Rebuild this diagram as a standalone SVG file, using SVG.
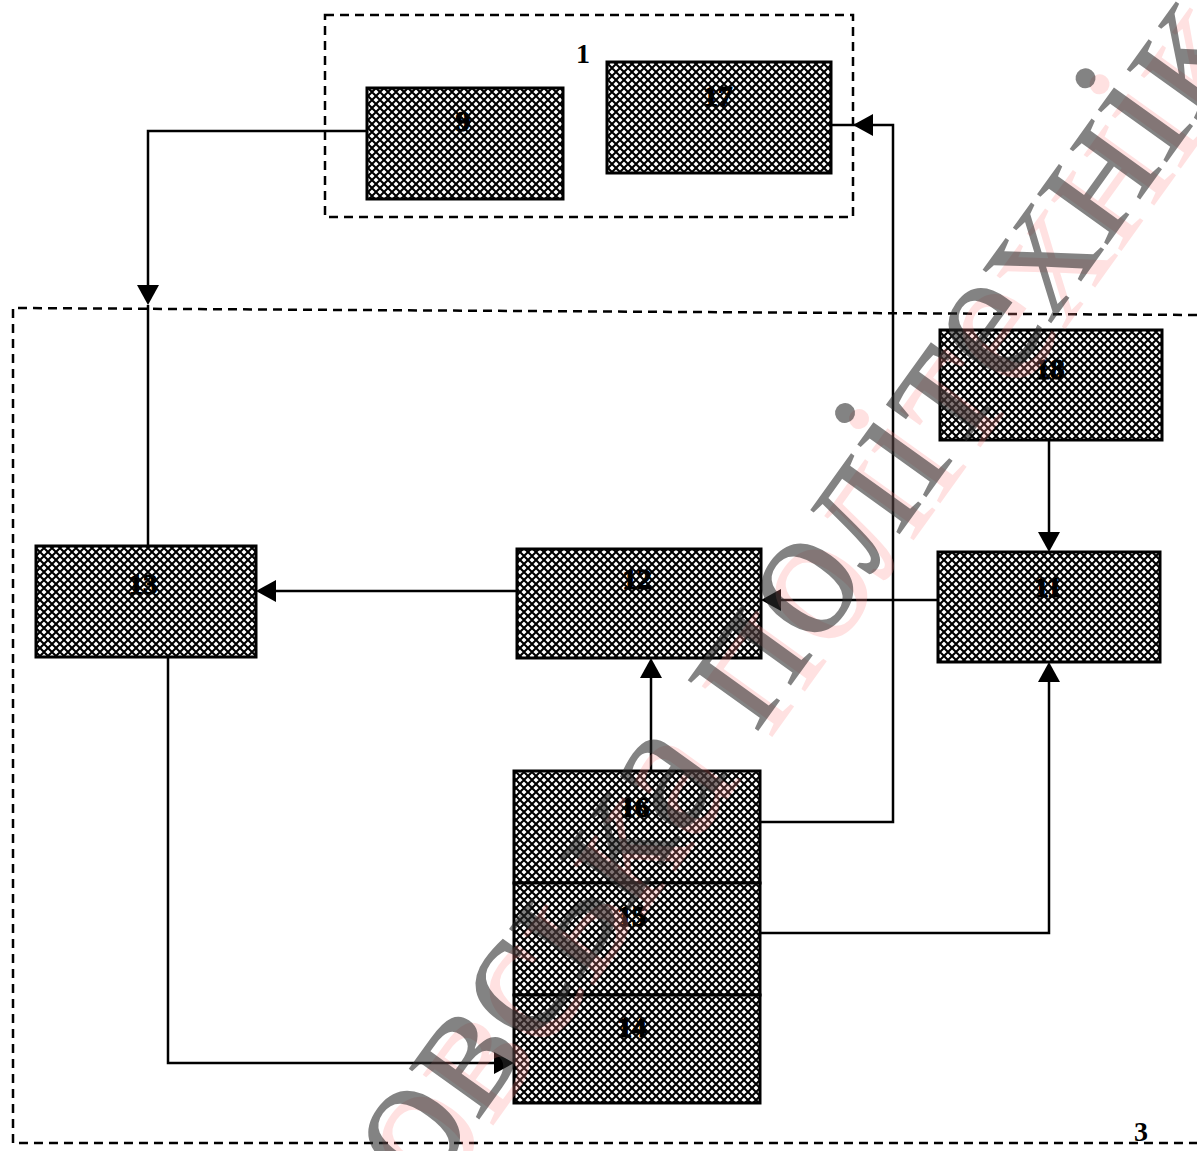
<svg xmlns="http://www.w3.org/2000/svg" width="1197" height="1151" viewBox="0 0 1197 1151">
<style>
.box{fill:url(#hatch);stroke:#000;stroke-width:3}
.lbl{font-family:"Liberation Serif",serif;font-weight:bold;font-size:29px;fill:#000;stroke:#000;stroke-width:1.2;text-anchor:middle}
.frame{fill:none;stroke:#000;stroke-width:2.5;stroke-dasharray:9 6}
.wire{fill:none;stroke:#000;stroke-width:2.5}
.num{font-family:"Liberation Serif",serif;font-size:28px;font-weight:bold;fill:#000}
.wm{font-family:"Liberation Serif",serif;font-size:189px}
</style>
<defs>
<pattern id="hatch" width="8" height="8" patternUnits="userSpaceOnUse">
<rect width="8" height="8" fill="#fff"/>
<path d="M-1,-1 L9,9 M9,-1 L-1,9" stroke="#000" stroke-width="2.1"/>
</pattern>
</defs>
<rect width="1197" height="1151" fill="#fff"/>

<g id="group1">
<rect class="frame" x="325" y="15" width="528" height="202"/>
<text class="num" x="576" y="63">1</text>
</g>
<g id="group3">
<path class="frame" d="M1197,315 L13,308 L13,1143 L1197,1143"/>
<text class="num" x="1134" y="1141">3</text>
</g>

<g id="connectors">
<path class="wire" d="M367,131 H148 V285"/>
<path d="M137,285 L159,285 L148,305 Z" fill="#000"/>
<path class="wire" d="M148,305 V546"/>
<path class="wire" d="M760,822 H893 V125 H853"/>
<path d="M853,125 L873,114 L873,136 Z" fill="#000"/>
<path class="wire" d="M853,125 H831"/>
<path class="wire" d="M1049,440 V532"/>
<path d="M1038,532 L1060,532 L1049,552 Z" fill="#000"/>
<path class="wire" d="M938,600 H781"/>
<path d="M781,589 L781,611 L761,600 Z" fill="#000"/>
<path class="wire" d="M517,591 H276"/>
<path d="M276,580 L276,602 L256,591 Z" fill="#000"/>
<path class="wire" d="M651,771 V678"/>
<path d="M640,678 L662,678 L651,658 Z" fill="#000"/>
<path class="wire" d="M760,933 H1049 V682"/>
<path d="M1038,682 L1060,682 L1049,662 Z" fill="#000"/>
<path class="wire" d="M168,657 V1063 H494"/>
<path d="M494,1052 L494,1074 L514,1063 Z" fill="#000"/>
</g>

<g id="node9"><rect class="box" x="367" y="88" width="196" height="111"/><text class="lbl" x="463" y="131">9</text></g>
<g id="node17"><rect class="box" x="607" y="62" width="224" height="111"/><text class="lbl" x="718" y="106">17</text></g>
<g id="node18"><rect class="box" x="940" y="330" width="222" height="110"/><text class="lbl" x="1050" y="379">18</text></g>
<g id="node11"><rect class="box" x="938" y="552" width="222" height="110"/><text class="lbl" x="1048" y="597">11</text></g>
<g id="node12"><rect class="box" x="517" y="549" width="244" height="109"/><text class="lbl" x="637" y="589">12</text></g>
<g id="node13"><rect class="box" x="36" y="546" width="220" height="111"/><text class="lbl" x="143" y="594">13</text></g>
<g id="node16"><rect class="box" x="514" y="771" width="246" height="112"/><text class="lbl" x="635" y="817">16</text></g>
<g id="node15"><rect class="box" x="514" y="883" width="246" height="112"/><text class="lbl" x="632" y="926">15</text></g>
<g id="node14"><rect class="box" x="514" y="995" width="246" height="108"/><text class="lbl" x="632" y="1037">14</text></g>

<g id="watermark">
<text class="wm" transform="translate(436,1205) rotate(-54.3)" fill="#ff8a8a" opacity="0.25">овська політехнік</text>
<text class="wm" transform="translate(422,1199) rotate(-54.3)" fill="#2a2a2a" opacity="0.58">овська політехнік</text>
</g>
</svg>
